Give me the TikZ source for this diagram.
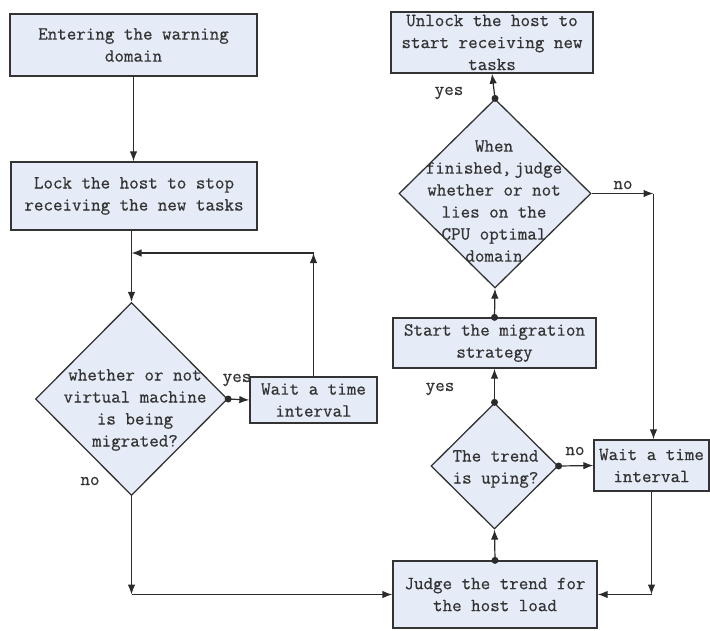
\documentclass[tikz,border=0pt]{standalone}
\usepackage{fontspec}
\usetikzlibrary{shapes.geometric,arrows.meta}
\setmonofont[FakeBold=0.6]{Latin Modern Mono}
\definecolor{boxfill}{HTML}{E6ECF7}
\definecolor{ink}{HTML}{333333}
\definecolor{wire}{HTML}{2B2B2B}
\tikzset{
  every node/.style={font=\ttfamily\fontsize{18.5}{22}\selectfont, text=ink},
  stepbox/.style={draw=ink, fill=boxfill, line width=1.3pt, inner sep=0pt, align=center},
  decision/.style={diamond, draw=ink, fill=boxfill, line width=1.3pt, inner sep=0pt},
  dtext/.style={align=center, inner sep=0pt},
  lbl/.style={inner sep=0pt},
  flow/.style={draw=wire, line width=1.2pt},
  arr/.style={flow, -{Latex[length=10pt,width=7.5pt]}},
  dot/.style={circle, fill=wire, inner sep=0pt, minimum size=7pt}
}
\begin{document}
\begin{tikzpicture}[x=1pt, y=-1pt]
\useasboundingbox (0,0) rectangle (710,630);

% left column
\node[stepbox, minimum width=247pt, minimum height=62pt] (enter) at (133.5,45) {Entering the warning\\domain};
\node[stepbox, minimum width=246pt, minimum height=68pt] (lock) at (134,196) {Lock the host to stop\\receiving the new tasks};
\node[decision, minimum width=192pt, minimum height=193pt] (vm) at (131.5,399) {};
\node[dtext] (vmtext) at (135,410) {whether or not\\virtual machine\\is being\\migrated?};
\node[stepbox, minimum width=127pt, minimum height=46pt] (wait1) at (313.5,400) {Wait a time\\interval};

% right column
\node[stepbox, minimum width=202pt, minimum height=61pt] (unlock) at (492,42.5) {Unlock the host to\\start receiving new\\tasks};
\node[decision, minimum width=192pt, minimum height=189pt] (opt) at (495,193.5) {};
\node[dtext] (opttext) at (494,201) {When\\finished,\hspace{3pt}judge\\whether or not\\lies on the\\CPU optimal\\domain};
\node[stepbox, minimum width=203pt, minimum height=50pt] (mig) at (494.5,343) {Start the migration\\strategy};
\node[decision, minimum width=127pt, minimum height=126pt] (trend) at (494.5,466) {};
\node[dtext] (trendtext) at (495.5,469) {The trend\\is uping?};
\node[stepbox, minimum width=115pt, minimum height=51pt] (wait2) at (651.5,465.5) {Wait a time\\interval};
\node[stepbox, minimum width=204pt, minimum height=67pt] (judge) at (495,594.5) {Judge the trend for\\the host load};

% corner points of the elbow connectors
\coordinate (loopjoin) at (131.5,253);
\coordinate (loopup) at (wait1.north |- loopjoin);
\coordinate (nocorner) at (vm.south |- judge.west);
\coordinate (optcorner) at (653.5,193.5);
\coordinate (waitcorner) at (wait2.south |- judge.east);

% connectors
\draw[arr] (enter.south) -- (enter.south |- lock.north);
\draw[flow] (vm.north |- lock.south) -- (loopjoin);
\draw[arr] (loopjoin) -- (vm.north);
\draw[arr] (wait1.north) -- (loopup);
\draw[arr] (loopup) -- (loopjoin);
\draw[arr] (vm.east) -- (wait1.west);
\draw[arr] (vm.south) -- (nocorner);
\draw[arr] (nocorner) -- (judge.west);
\draw[arr] (judge.north) -- (trend.south);
\draw[arr] (trend.east) -- (wait2.west);
\draw[arr] (trend.north) -- (mig.south);
\draw[arr] (mig.north) -- (opt.south);
\draw[arr] (opt.north) -- (unlock.south);
\draw[arr] (opt.east) -- (optcorner);
\draw[arr] (optcorner) -- (optcorner |- wait2.north);
\draw[arr] (wait2.south) -- (waitcorner);
\draw[arr] (waitcorner) -- (judge.east);

% junction dots
\node[dot] (d1) at (vm.east) {};
\node[dot] (d2) at (judge.north) {};
\node[dot] (d3) at (trend.east) {};
\node[dot] (d4) at (trend.north) {};
\node[dot] (d5) at (mig.north) {};
\node[dot] (d6) at (opt.north) {};

% branch labels
\node[lbl] (vmyes) at (237,380) {yes};
\node[lbl] (vmno) at (90,481) {no};
\node[lbl] (trendno) at (575,451) {no};
\node[lbl] (trendyes) at (440,389) {yes};
\node[lbl] (optno) at (623,185) {no};
\node[lbl] (optyes) at (449,93) {yes};
\end{tikzpicture}
\end{document}
